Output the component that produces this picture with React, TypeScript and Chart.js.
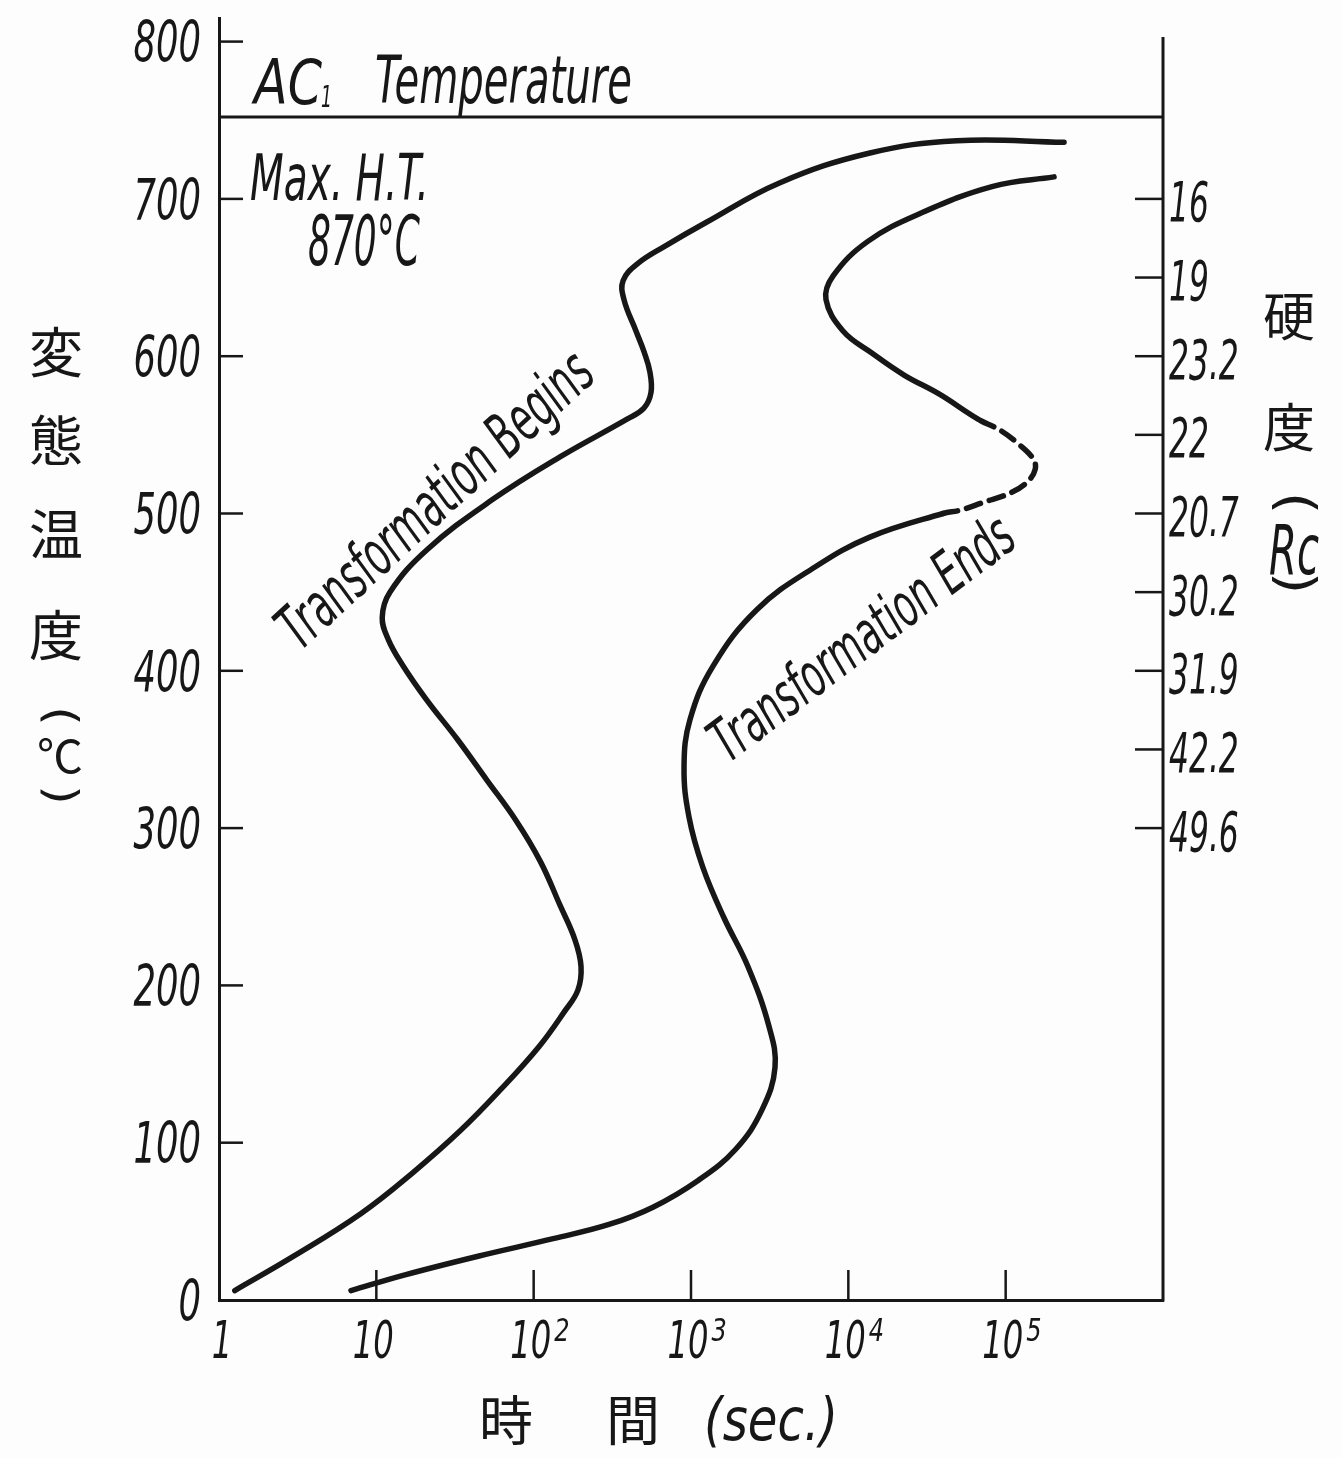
import React, { useEffect, useRef } from 'react';
import { Chart, registerables } from 'chart.js';

Chart.register(...registerables);

// ---- data (time in seconds, temperature in °C) ----
const beginsTime = [1.26, 3.0, 8.0, 17.1, 34.5, 62, 108, 156, 191, 200, 183, 147, 110, 77, 50, 33, 20.7, 14.6, 11.9, 10.9, 12.2, 21, 55, 147, 392, 502, 557, 548, 502, 447, 375, 370, 460, 684, 1245, 3620, 13500, 49000, 235000];
const beginsTemp = [6, 28, 55, 81, 108, 134, 161, 183, 197, 212, 229, 251, 279, 305, 331, 356, 382, 404, 420, 434, 450, 477, 509, 536, 560, 567, 577, 590, 603, 616, 636, 648, 659, 670, 685, 710, 729, 737, 736];

const endsTime = [6.9, 15.2, 45, 133, 301, 573, 1110, 1930, 2830, 3420, 3130, 2300, 1620, 1190, 971, 903, 986, 1380, 2630, 6140, 13700, 40000, 51000, 71800, 107000, 137000, 154000, 149000, 118000, 92000, 66700, 37700, 22600, 14100, 9250, 7210, 8000, 13300, 29000, 83000, 203000];
const endsTemp = [6, 16, 28, 39, 48, 59, 76, 96, 121, 148, 174, 212, 243, 275, 307, 339, 369, 403, 439, 466, 485, 500, 502, 507, 513, 520, 528, 535, 545, 553, 560, 576, 588, 602, 616, 636, 651, 673, 691, 708, 714];
// segments between these data indices are dashed (uncertain part of the curve)
const endsDashedFrom = 21;
const endsDashedTo = 30;

const ac1Temp = 752;
const timeRange = [1, 1e6];
const tempRange = [0, 815];

const tempTicks = [0, 100, 200, 300, 400, 500, 600, 700, 800];
const timeTicks = [1, 10, 100, 1000, 10000, 100000];
const timeTickBase = ['1', '10', '10', '10', '10', '10'];
const timeTickExp = ['', '', '2', '3', '4', '5'];
const hardnessTemps = [700, 650, 600, 550, 500, 450, 400, 350, 300];
const hardnessLabels = ['16', '19', '23.2', '22', '20.7', '30.2', '31.9', '42.2', '49.6'];

const leftTitle = ['変', '態', '温', '度'];
const rightTitle = ['硬', '度'];

const INK = '#171717';
const LATIN = '"DejaVu Sans", sans-serif';
const CJK = '"Noto Sans CJK JP", "Noto Sans CJK SC", sans-serif';

type TOpts = {
  size: number;
  italic?: boolean;
  family?: string;
  align?: CanvasTextAlign;
  baseline?: CanvasTextBaseline;
  sx?: number;
  width?: number;
  rot?: number;
};

function drawText(ctx: CanvasRenderingContext2D, s: string, x: number, y: number, o: TOpts) {
  const { size, italic = true, family = LATIN, align = 'left', baseline = 'alphabetic', rot = 0 } = o;
  ctx.save();
  ctx.font = `${italic ? 'italic ' : ''}${size}px ${family}`;
  ctx.textAlign = align;
  ctx.textBaseline = baseline;
  let k = o.sx ?? 1;
  if (o.width) k = o.width / ctx.measureText(s).width;
  ctx.translate(x, y);
  ctx.rotate(rot);
  ctx.scale(k, 1);
  ctx.fillStyle = INK;
  ctx.fillText(s, 0, 0);
  ctx.restore();
}

// parenthesis turned for vertical writing: '(' -> ︵, ')' -> ︶
function vParen(ctx: CanvasRenderingContext2D, s: string, x: number, y: number, size: number, thin = 0.85) {
  ctx.save();
  ctx.font = `${size}px ${LATIN}`;
  ctx.textAlign = 'center';
  ctx.textBaseline = 'middle';
  ctx.translate(x, y);
  ctx.rotate(Math.PI / 2);
  ctx.scale(1, thin);
  ctx.fillStyle = INK;
  ctx.fillText(s, 0, 0);
  ctx.restore();
}

function seg(ctx: CanvasRenderingContext2D, a: number, b: number, c: number, d: number) {
  ctx.beginPath();
  ctx.moveTo(a, b);
  ctx.lineTo(c, d);
  ctx.stroke();
}

const decorPlugin = {
  id: 'decor',
  afterDraw(chart: any) {
    const ctx: CanvasRenderingContext2D = chart.ctx;
    const xs = chart.scales.x;
    const ys = chart.scales.y;
    const x0 = xs.left;
    const x1 = xs.right;
    const yb = ys.bottom;
    ctx.save();
    ctx.strokeStyle = INK;
    ctx.lineCap = 'butt';
    // right (hardness) axis
    ctx.lineWidth = 3;
    seg(ctx, x1, ys.getPixelForValue(803), x1, yb + 1.5);
    ctx.lineWidth = 2.5;
    // left ticks (inward)
    tempTicks.slice(1).forEach((t) => {
      const y = ys.getPixelForValue(t);
      seg(ctx, x0, y, x0 + 24, y);
    });
    // bottom ticks (inward)
    timeTicks.slice(1).forEach((t) => {
      const x = xs.getPixelForValue(t);
      seg(ctx, x, yb, x, yb - 30);
    });
    // right ticks (inward)
    hardnessTemps.forEach((t) => {
      const y = ys.getPixelForValue(t);
      seg(ctx, x1 - 28, y, x1, y);
    });
    ctx.restore();

    // left tick labels
    const ls = 57;
    tempTicks.forEach((t) => {
      const y = ys.getPixelForValue(t);
      drawText(ctx, String(t), x0 - 18, y + ls * 0.729 / 2, { size: ls, align: 'right', sx: 0.62 });
    });
    // bottom tick labels
    timeTicks.forEach((t, i) => {
      const x = xs.getPixelForValue(t) + (i === 0 ? 6 : 0);
      const bs = 52;
      const sx = 0.62;
      ctx.save();
      ctx.font = `italic ${bs}px ${LATIN}`;
      const w = ctx.measureText(timeTickBase[i]).width * sx;
      ctx.restore();
      drawText(ctx, timeTickBase[i], x - 3, 1358, { size: bs, align: 'center', sx });
      if (timeTickExp[i]) {
        drawText(ctx, timeTickExp[i], x - 3 + w / 2 + 3, 1341, { size: 32, align: 'left', sx: 0.75 });
      }
    });
    // right tick labels
    const rs = 56;
    hardnessTemps.forEach((t, i) => {
      const y = ys.getPixelForValue(t);
      drawText(ctx, hardnessLabels[i], x1 + 6, y + rs * 0.729 / 2 + 2, { size: rs, align: 'left', sx: 0.56 });
    });

    // Ac1 annotation
    drawText(ctx, 'AC', 254, 104, { size: 62, width: 68 });
    drawText(ctx, '1', 321, 107, { size: 30, width: 11 });
    drawText(ctx, 'Temperature', 375, 103, { size: 66, width: 257 });
    // Max heat temperature
    drawText(ctx, 'Max. H.T.', 250, 200, { size: 64, width: 179 });
    drawText(ctx, '870°C', 308, 265, { size: 70, width: 112 });

    // curve labels
    drawText(ctx, 'Transformation Begins', 300, 652, { size: 62, width: 405, rot: (-42.6 * Math.PI) / 180 });
    drawText(ctx, 'Transformation Ends', 728, 764, { size: 60, width: 365, rot: (-37 * Math.PI) / 180 });

    // left vertical title
    const lc = [352, 440, 534, 635];
    leftTitle.forEach((c, i) => {
      drawText(ctx, c, 56, lc[i], { size: 54, italic: false, family: CJK, align: 'center', baseline: 'middle' });
    });
    vParen(ctx, '(', 58, 716, 50, 0.9);
    drawText(ctx, '℃', 60, 756, { size: 46, italic: false, family: CJK, align: 'center', baseline: 'middle' });
    vParen(ctx, ')', 58, 795, 50, 0.9);

    // right vertical title
    const rc = [316, 427];
    rightTitle.forEach((c, i) => {
      drawText(ctx, c, 1289, rc[i], { size: 52, italic: false, family: CJK, align: 'center', baseline: 'middle' });
    });
    vParen(ctx, '(', 1293, 503, 58, 0.9);
    drawText(ctx, 'Rc', 1294, 574, { size: 70, align: 'center', width: 50 });
    vParen(ctx, ')', 1293, 583, 58, 0.9);

    // bottom title
    drawText(ctx, '時', 506, 1420, { size: 54, italic: false, family: CJK, align: 'center', baseline: 'middle' });
    drawText(ctx, '間', 633, 1420, { size: 54, italic: false, family: CJK, align: 'center', baseline: 'middle' });
    drawText(ctx, '(sec.)', 704, 1440, { size: 58, width: 134 });
  },
};

export default function App() {
  const ref = useRef<HTMLCanvasElement | null>(null);

  useEffect(() => {
    document.body.style.margin = '0';
    const canvas = ref.current;
    if (!canvas) return;
    const begins = beginsTime.map((t, i) => ({ x: t, y: beginsTemp[i] }));
    const ends = endsTime.map((t, i) => ({ x: t, y: endsTemp[i] }));
    const ac1 = timeRange.map((t) => ({ x: t, y: ac1Temp }));
    const lineBase = {
      showLine: true,
      pointRadius: 0,
      pointHoverRadius: 0,
      borderColor: INK,
      fill: false,
      borderCapStyle: 'round' as const,
      borderJoinStyle: 'round' as const,
    };
    const chart = new Chart(canvas, {
      type: 'scatter',
      data: {
        datasets: [
          { ...lineBase, label: 'Ac1', data: ac1, borderWidth: 3, tension: 0 },
          { ...lineBase, label: 'Transformation Begins', data: begins, borderWidth: 5.5, tension: 0.4 },
          {
            ...lineBase,
            label: 'Transformation Ends',
            data: ends,
            borderWidth: 5.5,
            tension: 0.4,
            segment: {
              borderDash: (c: any) =>
                c.p0DataIndex >= endsDashedFrom && c.p0DataIndex < endsDashedTo ? [15, 9] : undefined,
            },
          },
        ],
      },
      options: {
        animation: false,
        responsive: false,
        maintainAspectRatio: false,
        layout: { padding: { left: 219, right: 1342 - 1163, top: 18, bottom: 1458 - 1300 } },
        scales: {
          x: {
            type: 'logarithmic',
            min: timeRange[0],
            max: timeRange[1],
            grid: { display: false, drawTicks: false },
            ticks: { display: false },
            border: { display: true, width: 3, color: INK },
          },
          y: {
            type: 'linear',
            min: tempRange[0],
            max: tempRange[1],
            grid: { display: false, drawTicks: false },
            ticks: { display: false },
            border: { display: true, width: 3, color: INK },
          },
        },
        plugins: { legend: { display: false }, tooltip: { enabled: false } },
      },
      plugins: [decorPlugin],
    });
    return () => chart.destroy();
  }, []);

  return (
    <div style={{ width: 1342, height: 1458, background: '#fdfdfd' }}>
      <canvas ref={ref} width={1342} height={1458} style={{ display: 'block', width: 1342, height: 1458 }} />
    </div>
  );
}
